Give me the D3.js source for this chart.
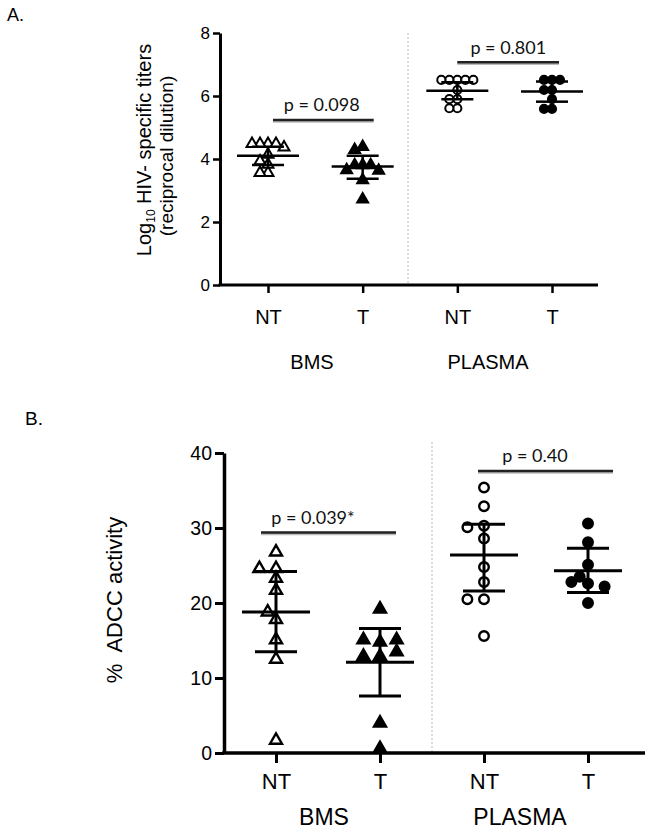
<!DOCTYPE html>
<html><head><meta charset="utf-8">
<script src="https://cdn.jsdelivr.net/npm/d3@7"></script>
<style>body{margin:0;background:#fff}svg{display:block}</style>
</head><body>
<svg id="chart" width="648" height="832"></svg>
<script>
// ---------- data ----------
const groups = ["BMS NT", "BMS T", "PLASMA NT", "PLASMA T"];
const groupTickLabels = ["NT", "T", "NT", "T"];
const sampleLabels = ["BMS", "PLASMA"];

// Panel A: Log10 HIV-specific titers
const titerBmsNT = [4.14, 3.93, 3.82, 3.56, 3.56, 4.48, 4.48, 4.48, 4.48, 4.37];
const titerBmsT = [3.81, 3.81, 3.81, 3.65, 3.63, 3.33, 2.72, 4.39, 4.29];
const titerPlasmaNT = [6.19, 5.90, 5.90, 5.61, 5.61, 6.51, 6.51, 6.51, 6.51, 6.51];
const titerPlasmaT = [6.19, 6.19, 5.90, 5.59, 5.59, 6.51, 6.51, 6.51];
const titerMean = [4.10, 3.76, 6.17, 6.14];
const titerLow = [3.81, 3.37, 5.90, 5.82];
const titerHigh = [4.39, 4.10, 6.44, 6.46];
const titerTicks = [0, 2, 4, 6, 8];
const titerPText = ["p = 0.098", "p = 0.801"];
const titerPLevel = [5.24, 7.07];

// Panel B: % ADCC activity
const adccBmsNT = [24.6, 24.6, 26.8, 23.3, 21.7, 17.8, 18.8, 15.1, 12.5, 1.7];
const adccBmsT = [19.2, 12.9, 12.9, 13.5, 14.8, 15.1, 15.1, 4.0, 0.6];
const adccPlasmaNT = [35.4, 32.9, 28.6, 30.3, 30.1, 24.8, 22.8, 20.5, 20.5, 15.6];
const adccPlasmaT = [30.6, 28.1, 25.1, 22.6, 22.8, 22.2, 23.5, 20.0];
const adccMean = [18.8, 12.1, 26.4, 24.3];
const adccLow = [13.5, 7.6, 21.6, 21.4];
const adccHigh = [24.2, 16.6, 30.5, 27.3];
const adccTicks = [0, 10, 20, 30, 40];
const adccPText = ["p = 0.039*", "p = 0.40"];
const adccPLevel = [29.4, 37.6];

// ---------- drawing ----------
const svg = d3.select("#chart");
const FONT = "'Liberation Sans', Arial, Helvetica, sans-serif";
const PFONT = "Lato, 'Open Sans', sans-serif";

function dodge(values, y, step, r) {
  const placed = [];
  const order = [0, -1, 1, -2, 2, -3, 3, -4, 4, -5, 5];
  return values.map(v => {
    const py = y(v);
    for (const k of order) {
      const px = k * step;
      if (placed.every(p => Math.hypot(p.x - px, p.y - py) >= r)) {
        placed.push({x: px, y: py});
        return {v, dx: px};
      }
    }
    return {v, dx: 0};
  });
}

function drawPanel(o) {
  const g = svg.append("g");
  const y = d3.scaleLinear().domain(o.domain).range([o.y0, o.y1]);
  const x = d3.scalePoint().domain(groups).range(o.xr);

  // divider
  const xm = (x(groups[1]) + x(groups[2])) / 2 + o.divShift;
  g.append("line").attr("x1", xm).attr("x2", xm).attr("y1", o.divTop).attr("y2", o.y0)
    .attr("stroke", "#b8b8b8").attr("stroke-width", 1).attr("stroke-dasharray", "2,2");

  // y axis
  const ya = g.append("g").attr("transform", `translate(${o.axX},0)`)
    .call(d3.axisLeft(y).tickValues(o.ticks).tickSize(o.ytick).tickSizeOuter(0).tickPadding(3));
  ya.select(".domain").attr("stroke-width", o.axW).attr("stroke", "#000");
  ya.selectAll(".tick line").attr("stroke-width", o.axW - 0.5);
  ya.selectAll("text").attr("font-family", FONT).attr("font-size", o.yfs).attr("fill", "#000");

  // x axis
  g.append("line").attr("x1", o.axX - o.axW / 2).attr("x2", o.axEnd).attr("y1", o.y0).attr("y2", o.y0)
    .attr("stroke", "#000").attr("stroke-width", o.axW);
  const xa = g.append("g").attr("transform", `translate(0,${o.y0})`)
    .call(d3.axisBottom(x).tickSize(o.xtick).tickSizeOuter(0).tickPadding(o.xpad)
      .tickFormat((d, i) => groupTickLabels[i]));
  xa.select(".domain").remove();
  xa.selectAll(".tick line").attr("stroke-width", o.axW - 0.5);
  xa.selectAll("text").attr("font-family", FONT).attr("font-size", o.xfs).attr("fill", "#000");

  // sample labels
  sampleLabels.forEach((s, i) => {
    g.append("text").attr("x", o.sampleX[i]).attr("y", o.sampleY).attr("text-anchor", "middle")
      .attr("font-family", FONT).attr("font-size", o.sfs).text(s);
  });

  // points
  o.series.forEach((vals, i) => {
    const cx = x(groups[i]);
    const pts = dodge(vals, y, o.step, o.rColl);
    const filled = i % 2 === 1;
    const tri = i < 2;
    const sym = d3.symbol().type(tri ? d3.symbolTriangle : d3.symbolCircle).size(tri ? o.triSize : o.cirSize);
    g.append("g").selectAll("path").data(pts).join("path")
      .attr("d", sym)
      .attr("transform", d => `translate(${cx + d.dx},${y(d.v)})`)
      .attr("fill", filled ? "#000" : "#fff")
      .attr("stroke", "#000").attr("stroke-width", o.mkW);
  });

  // mean and error bars
  groups.forEach((gr, i) => {
    const cx = x(gr);
    const eg = g.append("g").attr("stroke", "#000").attr("stroke-width", o.barW);
    eg.append("line").attr("x1", cx).attr("x2", cx).attr("y1", y(o.low[i])).attr("y2", y(o.high[i]));
    eg.append("line").attr("x1", cx - o.meanW / 2).attr("x2", cx + o.meanW / 2).attr("y1", y(o.mean[i])).attr("y2", y(o.mean[i]));
    [o.low[i], o.high[i]].forEach(v => {
      eg.append("line").attr("x1", cx - o.capW / 2).attr("x2", cx + o.capW / 2).attr("y1", y(v)).attr("y2", y(v));
    });
  });

  // p-value annotations
  o.pText.forEach((t, i) => {
    const xa0 = x(groups[2 * i]) + o.pL[i], xa1 = x(groups[2 * i + 1]) + o.pR[i];
    const py = y(o.pLevel[i]);
    g.append("line").attr("x1", xa0).attr("x2", xa1).attr("y1", py + 1).attr("y2", py + 1)
      .attr("stroke", "#bbb").attr("stroke-width", 3.5);
    g.append("line").attr("x1", xa0).attr("x2", xa1).attr("y1", py).attr("y2", py)
      .attr("stroke", "#222").attr("stroke-width", 2.6);
    g.append("text").attr("x", o.pTX[i]).attr("y", py - o.pGap).attr("text-anchor", "middle")
      .attr("font-family", PFONT).attr("font-size", o.pfs).attr("fill", "#111").text(t);
  });
  return g;
}

// Panel A
drawPanel({
  domain: [0, 8], y0: 285, y1: 33, xr: [268, 552], divShift: -2, divTop: 33,
  axX: 220, axEnd: 598, axW: 3, ytick: 7, yfs: 17, ticks: titerTicks,
  xtick: 8, xpad: 16.5, xfs: 20, sampleX: [312, 488], sampleY: 369, sfs: 20,
  series: [titerBmsNT, titerBmsT, titerPlasmaNT, titerPlasmaT],
  step: 8, rColl: 7.5, triSize: 52, cirSize: 52, mkW: 2,
  mean: titerMean, low: titerLow, high: titerHigh, barW: 2.5, meanW: 62, capW: 32,
  pText: titerPText, pLevel: titerPLevel, pL: [5, 0], pR: [11, 7], pTX: [321.7, 508.3], pGap: 8.5, pfs: 18
});
// Panel A y label
const labA = svg.append("text").attr("transform", "translate(151,150) rotate(-90)")
  .attr("text-anchor", "middle").attr("font-family", FONT).attr("font-size", 20);
labA.append("tspan").text("Log");
labA.append("tspan").attr("font-size", 12).attr("dy", 4).text("10");
labA.append("tspan").attr("dy", -4).text(" HIV- specific titers");
svg.append("text").attr("transform", "translate(173,156) rotate(-90)")
  .attr("text-anchor", "middle").attr("font-family", FONT).attr("font-size", 19)
  .text("(reciprocal dilution)");
svg.append("text").attr("x", 7).attr("y", 21).attr("font-family", FONT).attr("font-size", 18).text("A.");

// Panel B
drawPanel({
  domain: [0, 40], y0: 753, y1: 453, xr: [276, 588], divShift: 0, divTop: 442,
  axX: 224, axEnd: 645, axW: 3.5, ytick: 9, yfs: 19.5, ticks: adccTicks,
  xtick: 10, xpad: 10.5, xfs: 22, sampleX: [324, 520], sampleY: 825, sfs: 23,
  series: [adccBmsNT, adccBmsT, adccPlasmaNT, adccPlasmaT],
  step: 8.3, rColl: 9.5, triSize: 62, cirSize: 72, mkW: 2.4,
  mean: adccMean, low: adccLow, high: adccHigh, barW: 3, meanW: 68, capW: 42,
  pText: adccPText, pLevel: adccPLevel, pL: [-15, -6], pR: [16, 25], pTX: [313, 535], pGap: 9, pfs: 18
});
svg.append("text").attr("transform", "translate(122,600) rotate(-90)")
  .attr("text-anchor", "middle").attr("font-family", FONT).attr("font-size", 22)
  .attr("xml:space", "preserve").text("%  ADCC activity");
svg.append("text").attr("x", 25).attr("y", 425).attr("font-family", FONT).attr("font-size", 19).text("B.");
</script>
</body></html>
